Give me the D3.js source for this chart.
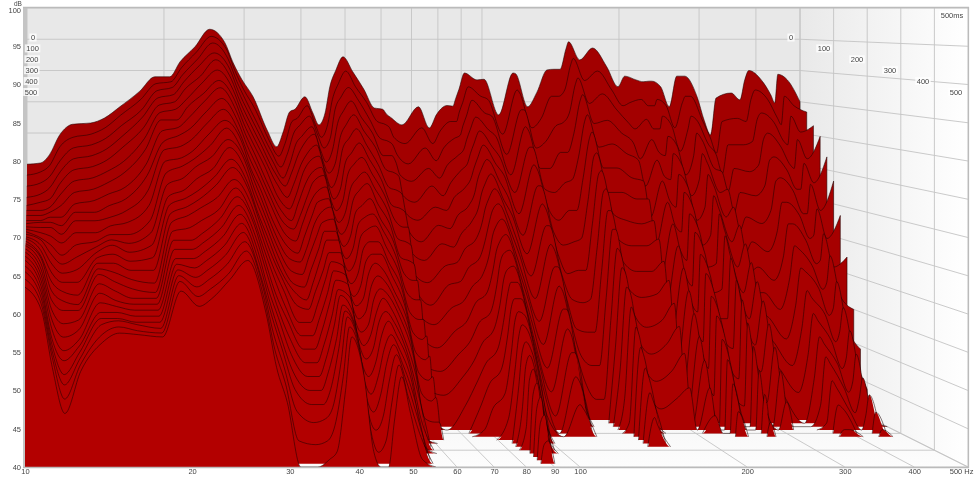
<!DOCTYPE html>
<html>
<head>
<meta charset="utf-8">
<script src="https://cdn.jsdelivr.net/npm/d3@7"></script>
<style>
html, body { margin: 0; padding: 0; background: #fff; }
svg { display: block; }
text { font-family: "Liberation Sans", Arial, sans-serif; font-size: 7.5px; fill: #444; }
</style>
</head>
<body>
<script>
// waterfall: slices every 20ms
var times = [0,20,40,60,80,100,120,140,160,180,200,220,240,260,280,300,320,340,360,380,400,420,440,460,480,500];
var dbTicks = [40,45,50,55,60,65,70,75,80,85,90,95,100];
var hzTicks = [10,20,30,40,50,60,70,80,90,100,200,300,400,500];
var msTicks = [0,100,200,300,400,500];

// dB per time slice, list stops where the level falls under the 40dB floor
var hz10 = [75,73.5,72,70.5,69.5,69,68.5,68,67.8,67.6,67.5,67.4,67.3,67.2,67.2,67.1,67,67,66.8,66.6,66.3,66,65.5,65,64.3,63.5];
var hz10_7 = [75.2,74,72.5,71,70,69,68.5,68,68,67.5,67,66.5,66.5,66,65.5,65,65,64.5,64,63.5,63,62.5,62,61.5,61,60.5];
var hz11_2 = [76.5,75,73.5,72,70.5,69.5,69,68.5,68,67.5,66.5,65.5,64.5,63.5,62.5,61.5,60.5,59.5,58.5,57.5,56.5,55.5,55,54.5,54,53];
var hz11_8 = [79.7,78,76,74.5,73,71.5,70,68.5,67.5,66.5,65.5,64,63,62,61,60,59,58,56.5,55,53.5,52.5,51,50,48.5,47];
var hz12_6 = [81.4,79.5,78,76.5,75,73.5,72,70.5,69.5,68.5,67,65.5,64,62.5,61,59.5,58.5,58,57,56,55,54.5,54,53.5,53,52.5];
var hz13_8 = [81.6,80,78.5,77,75.5,74,72.5,71,69.5,68.5,67,66,65.5,65,64.5,64,63.5,63,62,61,60,59,58.5,58,57,56.3];
var hz14_8 = [82.4,81,79.5,78,76.5,75,73.5,72,70.5,69,68,67,66.5,66,65,64,63,62,61,60,59.5,59,58.5,58.5,58,57.5];
var hz16 = [84.2,83,81.5,80,78.5,76.5,75,73,71.5,70,68.5,67,66,65,64,63,62,61,60,59.5,59,58.5,58,58,57.5,57.3];
var hz17_7 = [86.7,85.5,84,83,81.5,80,78.5,76.5,75,73,71,69,67.5,66,64.5,63,61.5,60.5,60,59.5,59,58.5,58,57.5,57.2,57];
var hz19_1 = [89,88,87,86,85,84,83,81.5,80,79,77.5,76,74.5,73,72,71,70,69,68,67,66,65.5,65,64.5,64,63];
var hz20_6 = [89,88.3,87.5,86.5,85.5,84.5,83,82,81,79.5,78,77,75.5,74,73,72,71,69.5,68,67,66,65,64,63,62,61];
var hz21_7 = [91.4,90.5,89.5,88.5,87.5,86,85,83.5,82,80.5,79,78,77,75.5,74,73,72,70.5,69,68,67,66,65,64,63,62];
var hz23_4 = [93.8,93,92,91,89.5,88.5,87,86,84.5,83,81.5,80,78.5,77,76,75,73.5,72,71,70,69,68,67,66,65,64.5];
var hz25_2 = [96.6,95.5,94.5,93,92,90.5,89,88,86.5,85,83.5,82.5,81,80,78.5,77.5,76,75,74,73,72,71,70,69,68,67];
var hz27_2 = [94.5,93.5,92,90.5,89,87.5,86,84.5,83,81.5,80.5,79,78,76.5,75,74,72.5,71,70,68.5,67,65.5,64,63,61.5,60];
var hz28_4 = [91.2,90,88.5,87,85.5,84,82.5,81,79.5,78,76.5,75.5,74,72.5,71,70,68.5,67,65.5,64,62,60.5,59,57,55,53];
var hz29_7 = [88.5,87,85.5,84,82.5,81,79.5,78,76.5,75,73.5,72,70.5,69,67.5,66,64.5,63,61,59.5,58,56,54.5,52.5,50.5,48.4];
var hz31_4 = [85.8,84,82,80.5,79,77.5,76,74,72.5,71,69,67.5,66,64.5,63,62,60.5,58.5,57,55,53,51,49,46.5,43];
var hz33_7 = [80.5,79,77.5,76,74.5,73,71,69.5,68,66.5,65,63.5,62,60.5,59.5,58,56,54.5,53,51.5,50,48.5,47,45,42.5];
var hz35_4 = [77.8,76.5,75,73.5,72.5,71,69.5,68,67,65.5,64,63,61.5,60,58.5,57.5,56,54.5,53,51.5,50,48.5,47,45.5,43,41];
var hz36_5 = [80,78.5,77,75.5,74.5,73,71.5,70.5,69,68,66.5,65,64,62.5,61,60,58.5,57,55.5,54,52.5,51,49,47,45,42];
var hz37_8 = [83.4,82,80.5,79,77.5,76,75,73.5,72,71,69.5,68.5,67,65.5,64.5,63,62,60.5,59.5,58,57,55.5,54.5,53,51.5,50];
var hz38_8 = [83.8,82.5,81.5,80,79,77.5,76.5,75,74,72.5,71.5,70,69,68,67,65.5,64.5,63.5,62.5,61.5,61,60,59.5,59,58,57];
var hz40_8 = [85.8,84.5,83,81.5,80.5,79,77.5,76,75,73.5,72,71,69.5,68,67,65.5,64,63,62,60.5,59,57.5,56.5,55,53.5,52];
var hz42_5 = [83.2,81.5,80,78,76.5,75,73.5,71.5,70,68.5,67,65.5,64,62.5,61,60,58.5,57,55.5,54,52,50,48,46,44,42];
var hz43_8 = [81.3,79.5,78,76,74.5,72.5,71,69.5,68,66.5,65,63.5,62,60.5,59,58,56.5,55,53.5,52,50,48,46,44,41.5];
var hz45_2 = [83.2,81.5,79.5,78,76,74.5,72.5,71,69.5,68,66.5,65,63.5,62,60.5,59,57.5,56,55,53.5,52,50.5,48.5,46,43];
var hz46_3 = [87.4,85.5,84,82,80,78.5,76.5,75,73,71.5,70,68.5,67,65.5,64,62.5,61,59.5,58,57,55.5,54,52.5,50.5,48,46];
var hz47_7 = [90,88,86,84,82,80,78,76.5,74.5,73,71,69.5,68,66.5,65,64,62.5,61,60,58.5,57.5,56,55,54,53,51.8];
var hz49_5 = [92.2,90,87.5,85.5,83.5,81.5,79.5,77.5,75.5,74,72,70,68.5,66.5,65,63,61.5,60,58.5,57,55.5,54,52.5,51,49,47];
var hz52 = [89.8,87.5,85.5,83,81,79,77,75,73,71,69,67.5,65.5,63.5,62,60,58.5,57,55,53.5,52,50,48,46,44,41];
var hz55 = [87,85,82.5,80.5,78.5,76,74,72,70,68,66,64,62,60,58,56,54,52,49.5,47,44,41];
var hz58 = [84,82,79.5,77,75,72.5,70,68,65.5,63,61,58.5,56,53.5,51,48.5,46,43,40.5];
var hz60_5 = [83.8,81.5,79,77,74.5,72,69.5,67,65,62.5,60,57.5,55,52.5,50,47.5,45,42.5];
var hz61_7 = [83,81,78.5,76,74,71.5,69,67,64.5,62,60,57.5,55,53,50.5,48,45.5,42.5];
var hz63 = [82.5,79.5,77,74,71,68.5,66,63,60,57.5,54.5,51.5,48,45,41.5];
var hz66_7 = [81.3,78.5,75.5,73,70,67.5,64.5,62,59,56,53.5,50.5,47.5,44.5];
var hz72_5 = [84.2,81,78,75,72.5,69.5,67,64.5,61.5,59,56,53,50,47,43.5];
var hz76_6 = [80.8,78.5,76,73.5,71,69,66.5,64,62,59.5,57,54.5,52,49.5,47,44,41];
var hz79_5 = [83,80.5,78,75.5,73,71,68.5,66,64,61.5,59,57,54.5,52,49.5,47,44];
var hz83_8 = [84.4,82,79.5,77,75,72.5,70,68,65.5,63,61,58.5,56,54,51.5,49,46,43];
var hz86_3 = [84.3,82,80,78,76,74,72,70,68,66,64,62,60,58,56,54,52,50,48,45.5,43];
var hz87_5 = [85.5,83.5,81.5,79.5,77.5,75.5,74,72,70,68,66.5,64.5,63,61,59,57.5,56,54,52.5,51,49.5,48,46.5,45,42.5];
var hz89 = [87,85,83,81,79,77,75.5,73.5,71.5,70,68,66,64.5,62.5,61,59,57.5,56,54,52.5,51,49.5,48,46,43];
var hz91_5 = [89.6,87.5,85.5,83,81,79,77,75,73,71,69,67,65,63,61,59,57,55,52.5,50,47,44];
var hz97_5 = [88.5,86,83.5,81,78.5,76,73.5,71,69,66.5,64,61.5,59,56.5,54,51.5,49,46,42.5];
var hz101 = [88.6,85.5,83,80,77,74.5,71.5,69,66,63.5,60.5,58,55,52,49.5,46.5,43];
var hz108_8 = [82.9,80,77,74,71.5,68.5,65.5,63,60,57,54,51,48,45,42];
var hz117 = [89.6,87,84,81.5,78.5,76,73,70.5,67.5,65,62,59.5,56.5,54,51,48,44.5];
var hz118_5 = [89.5,86.5,84,81,78.5,75.5,73,70,67.5,64.5,62,59,56.5,53.5,51,47.5,44];
var hz126 = [84.2,81,78,75,72,69,66,63,60,57,54,50.5,47,43.5];
var hz132 = [86.5,82.5,79,75,71.5,67.5,64,60,56.5,52.5,49,45.5];
var hz139 = [90.1,86,81.5,77.5,73,69,64.5,60.5,56,52,47.5,43];
var hz144 = [90.2,86,82,77.5,73.5,69,65,60.5,56.5,52,47.5,43];
var hz148_5 = [90.2,87,83.5,80.5,77,74,70.5,67.5,64,61,57.5,54.5,51,48,44.5,41.5];
var hz153 = [93.5,91,88,85.5,82.5,80,77.5,75,72.5,70,67.5,65,62.5,60,57.5,55,52.5,50,47,44];
var hz155 = [94.6,92,89,86.5,83.5,81,78,75.5,73,70,67.5,64.5,62,59.5,56.5,54,51.5,49,46,43];
var hz164 = [91.7,88.5,85,82,78.5,75.5,72,69,65.5,62.5,59,56,52.5,49.5,46,43];
var hz175 = [93.6,90,86.5,82.5,79,75.5,72,68,64.5,61,57.5,53.5,50,46.5,43];
var hz188 = [90.6,87,84,80.5,77.5,74,71,67.5,64.5,61,58,54.5,51.5,48,44.5];
var hz199 = [87.4,84.5,82,79,76.5,73.5,71,68,65.5,62.5,60,57,54,50.5,46];
var hz206 = [89.1,85,81,76.5,72.5,68,64,59.5,55.5,51,46.5,42];
var hz218 = [88.5,85.5,82.5,79.5,76.5,73.5,70.5,67.5,64.5,61.5,58.5,55.5,52.5,49.5,46,42.5];
var hz226 = [88.2,84.5,81,77.5,74,70.5,67,63.5,60,56.5,53,50,46.5,43];
var hz233 = [88.3,84.5,81,77,73.5,69.5,66,62,58.5,55,51,47.5,44];
var hz236 = [88.3,85.5,83,80,77.5,74.5,72,69,66.5,63.5,61,58,55.5,52.5,50,47,43.5];
var hz247 = [87.4,84.5,81.5,78.5,75.5,72.5,69.5,66.5,63.5,60.5,57.5,54.5,51.5,48,44.5];
var hz258 = [84.2,81,77.5,74,71,67.5,64,61,57.5,54,51,47.5,43.5];
var hz268 = [89.1,85,81,77,73.5,69.5,65.5,61.5,58,54,50,46,42.5];
var hz272 = [89.1,86,83,80.5,77.5,74.5,71.5,69,66,63,60,57.5,54.5,51.5,48.5,45.5,42];
var hz279 = [89.1,86,82.5,79.5,76,73,69.5,66.5,63,60,56.5,53.5,50,47,43.5];
var hz297 = [85.8,82,78.5,75,71.5,68,64.5,61,57.5,54,50.5,47,43];
var hz308 = [82,79.5,77,74.5,72,69.5,67,64.5,62,59.5,57,54,51,48,44];
var hz318 = [79.7,77,74,71.5,68.5,66,63,60.5,57.5,55,52,48.5,45,41.5];
var hz327 = [85.6,82,78.5,75,71.5,68,64.5,61,57.5,54,50.5,47,43];
var hz353 = [86.4,82.5,78.5,74.5,71,67,63,59,55,51,47.5,44];
var hz369 = [85.3,82,79,75.5,72.5,69,66,62.5,59.5,56,53,49.5,46.5,43,41];
var hz378 = [88.5,85.5,82.5,79.5,76.5,73.5,70.5,67.5,64.5,61.5,58.5,55.5,52.5,50,47,44,41];
var hz386 = [90,87,83.5,80.5,77,74,70.5,67.5,64,61,57.5,54.5,51.5,49,46,43.5,41];
var hz411 = [88.5,85.5,82,78.5,75,72,68.5,65,61.5,58.5,55,51.5,48.5,45.5,42.5];
var hz432 = [86,82.5,79,75.5,72,68.5,65,61.5,58,54.5,51,47.5,44.5,42];
var hz440 = [84.8,81.5,78.5,75,72,68.5,65.5,62,59,55.5,52.5,49,46,44,42];
var hz447 = [89.4,86,83,79.5,76,73,69.5,66,63,59.5,56,53,50,47,45,43,41];
var hz469 = [88.5,84.5,80.5,76.5,73,69,65,61,57,53,49.5,46,43,41];
var hz500 = [85,83.5,81.5,80,77,73.5,68.5,62.5,55,49.5,44,40.8];

var freqs = [10,10.7,11.2,11.8,12.6,13.8,14.8,16,17.7,19.1,20.6,21.7,23.4,25.2,27.2,28.4,29.7,31.4,33.7,35.4,36.5,37.8,38.8,40.8,42.5,43.8,45.2,46.3,47.7,49.5,52,55,58,60.5,61.7,63,66.7,72.5,76.6,79.5,83.8,86.3,87.5,89,91.5,97.5,101,108.8,117,118.5,126,132,139,144,148.5,153,155,164,175,188,199,206,218,226,233,236,247,258,268,272,279,297,308,318,327,353,369,378,386,411,432,440,447,469,500];
var levels = [hz10,hz10_7,hz11_2,hz11_8,hz12_6,hz13_8,hz14_8,hz16,hz17_7,hz19_1,hz20_6,hz21_7,hz23_4,hz25_2,hz27_2,hz28_4,hz29_7,hz31_4,hz33_7,hz35_4,hz36_5,hz37_8,hz38_8,hz40_8,hz42_5,hz43_8,hz45_2,hz46_3,hz47_7,hz49_5,hz52,hz55,hz58,hz60_5,hz61_7,hz63,hz66_7,hz72_5,hz76_6,hz79_5,hz83_8,hz86_3,hz87_5,hz89,hz91_5,hz97_5,hz101,hz108_8,hz117,hz118_5,hz126,hz132,hz139,hz144,hz148_5,hz153,hz155,hz164,hz175,hz188,hz199,hz206,hz218,hz226,hz233,hz236,hz247,hz258,hz268,hz272,hz279,hz297,hz308,hz318,hz327,hz353,hz369,hz378,hz386,hz411,hz432,hz440,hz447,hz469,hz500];

var width = 975, height = 479;
var svg = d3.select("body").append("svg").attr("width", width).attr("height", height);

// front plane is the 500ms slice, back plane the 0ms one
var xFront = d3.scaleLog().domain([10,500]).range([25,968]);
var xBack = d3.scaleLog().domain([10,500]).range([27,800]);
var yFront = d3.scaleLinear().domain([40,100]).range([467,8]);
var yBack = d3.scaleLinear().domain([40,100]).range([383,8]);
var depth = d3.scaleLinear().domain([0,500]).range([0,1]);
var shade = d3.scaleLinear().domain([0,500]).range(["#a20000","#b30000"]);

function px(f,t){ var u = depth(t); return xBack(f)*(1-u) + xFront(f)*u; }
function py(db,t){ var u = depth(t); return yBack(db)*(1-u) + yFront(db)*u; }

// walls
var defs = svg.append("defs");
var side = defs.append("linearGradient").attr("id","side");
side.append("stop").attr("offset",0).attr("stop-color","#e9e9e9");
side.append("stop").attr("offset",1).attr("stop-color","#ffffff");
var floorFill = defs.append("linearGradient").attr("id","floorFill").attr("x2",0).attr("y2",1);
floorFill.append("stop").attr("offset",0).attr("stop-color","#f2f2f2");
floorFill.append("stop").attr("offset",1).attr("stop-color","#fdfdfd");

function poly(pts,fill){ svg.append("polygon").attr("points",pts.join(" ")).attr("fill",fill); }
poly([[27,8],[800,8],[800,383],[27,383]],"#e8e8e8");
poly([[800,8],[968,8],[968,467],[800,383]],"url(#side)");
poly([[27,383],[800,383],[968,467],[25,467]],"url(#floorFill)");
poly([[23,8],[27,8],[27,383],[25,467],[23,467]],"#c4c4c4");

// grid
var grid = svg.append("g").attr("stroke","#c4c4c4").attr("stroke-width",0.9).attr("fill","none");
function seg(a,b){ grid.append("line").attr("x1",a[0]).attr("y1",a[1]).attr("x2",b[0]).attr("y2",b[1]); }
hzTicks.forEach(function(f){
  seg([px(f,0),py(100,0)],[px(f,0),py(40,0)]);
  seg([px(f,0),py(40,0)],[px(f,500),py(40,500)]);
});
dbTicks.forEach(function(db){
  seg([px(10,0),py(db,0)],[px(500,0),py(db,0)]);
  seg([px(500,0),py(db,0)],[px(500,500),py(db,500)]);
});
msTicks.forEach(function(t){
  seg([px(10,t),py(40,t)],[px(500,t),py(40,t)]);
  seg([px(500,t),py(100,t)],[px(500,t),py(40,t)]);
});

// slices, back to front
var slices = times.map(function(t,i){
  return {t:t, pts:freqs.map(function(f,j){
    var v = levels[j][i];
    return {f:f, db:(v === undefined || v < 40) ? 40 : v};
  })};
});

var wall = svg.append("g");
slices.forEach(function(s){
  var base = py(40,s.t);
  var area = d3.area().curve(d3.curveMonotoneX)
    .x(function(d){ return px(d.f,s.t); })
    .y0(base)
    .y1(function(d){ return py(d.db,s.t); });
  var edge = d3.line().curve(d3.curveMonotoneX)
    .x(function(d){ return px(d.f,s.t); })
    .y(function(d){ return py(d.db,s.t); })
    .defined(function(d,i,a){
      return d.db > 40 || (i > 0 && a[i-1].db > 40) || (i < a.length-1 && a[i+1].db > 40);
    });
  wall.append("path").attr("d",area(s.pts)).attr("fill",shade(s.t));
  var last = s.pts[s.pts.length-1];
  var d = edge(s.pts);
  if(last.db > 40){
    d += "M"+px(last.f,s.t)+","+py(last.db,s.t)+"L"+px(last.f,s.t)+","+base;
  }
  wall.append("path").attr("d",d).attr("fill","none")
    .attr("stroke","#1c0000").attr("stroke-opacity",0.72).attr("stroke-width",0.75);
});

// frame
svg.append("line").attr("x1",23).attr("x2",969).attr("y1",7.5).attr("y2",7.5).attr("stroke","#bbb").attr("stroke-width",1.5);
svg.append("line").attr("x1",23).attr("x2",969).attr("y1",467.5).attr("y2",467.5).attr("stroke","#bbb").attr("stroke-width",1.5);
svg.append("line").attr("x1",968.5).attr("x2",968.5).attr("y1",7).attr("y2",468).attr("stroke","#bbb").attr("stroke-width",1.2);

// axes, the group opacity keeps the small text antialiased in plain grey
var labels = svg.append("g").attr("opacity",0.99);
var yAxis = d3.axisLeft(yFront).tickValues(dbTicks).tickSize(0).tickPadding(2);
var xAxis = d3.axisBottom(xFront).tickValues(hzTicks).tickSize(0).tickPadding(2)
  .tickFormat(function(d){ return d; });
var ya = labels.append("g").attr("transform","translate(23,0)").call(yAxis);
var xa = labels.append("g").attr("transform","translate(0,467)").call(xAxis);
ya.select(".domain").remove();
xa.select(".domain").remove();
xa.selectAll("text").filter(function(d){ return d === 500; }).text("500 Hz").attr("text-anchor","end").attr("dx",5);
labels.selectAll(".tick text").attr("font-size",null).attr("font-family",null);
ya.selectAll(".tick").filter(function(d){ return d === 100; }).select("text").attr("dy","0.55em");
labels.append("text").attr("x",14).attr("y",6).style("font-size","6.5px").text("dB");

// time labels along both side walls
var labelY = d3.scaleLinear().domain([0,500]).range([37.5,92]);
var labelXLeft = d3.scaleLinear().domain([0,500]).range([33,31]);
var labelXRight = d3.scaleLinear().domain([0,500]).range([791,956]);
function timeLabel(x,y,txt){
  var g = labels.append("g").attr("transform","translate("+x+","+y+")");
  var t = g.append("text").attr("text-anchor","middle").attr("dy",2.6).text(txt);
  var w = t.node().getComputedTextLength() + 3;
  g.insert("rect","text").attr("x",-w/2).attr("y",-4).attr("width",w).attr("height",8).attr("fill","#fff").attr("fill-opacity",0.8);
}
msTicks.forEach(function(t){
  timeLabel(labelXLeft(t),labelY(t),t);
  timeLabel(labelXRight(t),labelY(t),t);
});
timeLabel(952,15,"500ms");
</script>
</body>
</html>
